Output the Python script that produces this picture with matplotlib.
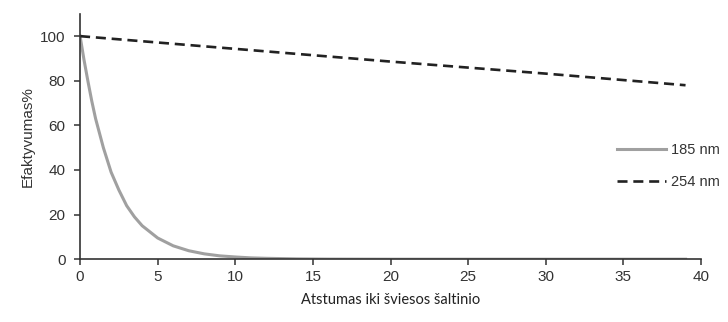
import matplotlib.pyplot as plt

# distance from the lamp
dist_185 = [0, 0.25, 0.5, 0.75, 1, 1.5, 2, 2.5, 3, 3.5, 4, 5, 6, 7, 8, 9, 10, 11, 12, 14, 16, 20, 25, 30, 35, 39]
eff_185 = [100, 89.5, 80, 71, 63, 50, 39, 31, 24, 19, 15, 9.5, 6, 3.8, 2.4, 1.5, 1.0, 0.6, 0.4, 0.15, 0.05, 0, 0, 0, 0, 0]

dist_254 = [0, 10, 20, 30, 39]
eff_254 = [100, 94.3, 88.6, 83.2, 78]

plt.rcParams['font.family'] = ['Liberation Sans Narrow', 'Liberation Sans', 'DejaVu Sans']

fig = plt.figure(figsize=(7.28, 3.22), dpi=100)
ax = fig.add_axes([0.110, 0.195, 0.853, 0.762])

ax.plot(dist_185, eff_185, color='#a0a0a0', lw=2.2, label='185 nm')
ax.plot(dist_254, eff_254, color='#222222', lw=1.9, ls=(0, (3.8, 2.2)), label='254 nm')

ax.set_xlim(0, 40)
ax.set_ylim(0, 110)
ax.set_xticks(range(0, 41, 5))
ax.set_yticks(range(0, 101, 20))
for s in ['top', 'right']:
    ax.spines[s].set_visible(False)
for s in ['left', 'bottom']:
    ax.spines[s].set_color('#333333')
    ax.spines[s].set_linewidth(1.2)
ax.tick_params(direction='out', length=4.5, width=1.1, color='#333333',
               labelsize=11, labelcolor='#333333')
ax.tick_params(axis='y', pad=6)

ax.set_xlabel('Atstumas iki šviesos šaltinio', family=['Lato', 'DejaVu Sans'],
              fontsize=10.5, color='#222222', labelpad=6)
ax.set_ylabel('Efaktyvumas%', fontsize=11, color='#333333', labelpad=4)

ax.legend(loc='upper left', bbox_to_anchor=(0.829, 0.597),
          bbox_transform=fig.transFigure, frameon=False,
          fontsize=10.5, handlelength=3.4, handletextpad=0.3, labelspacing=1.25,
          labelcolor='#333333')

fig.savefig('out.png', dpi=100)
